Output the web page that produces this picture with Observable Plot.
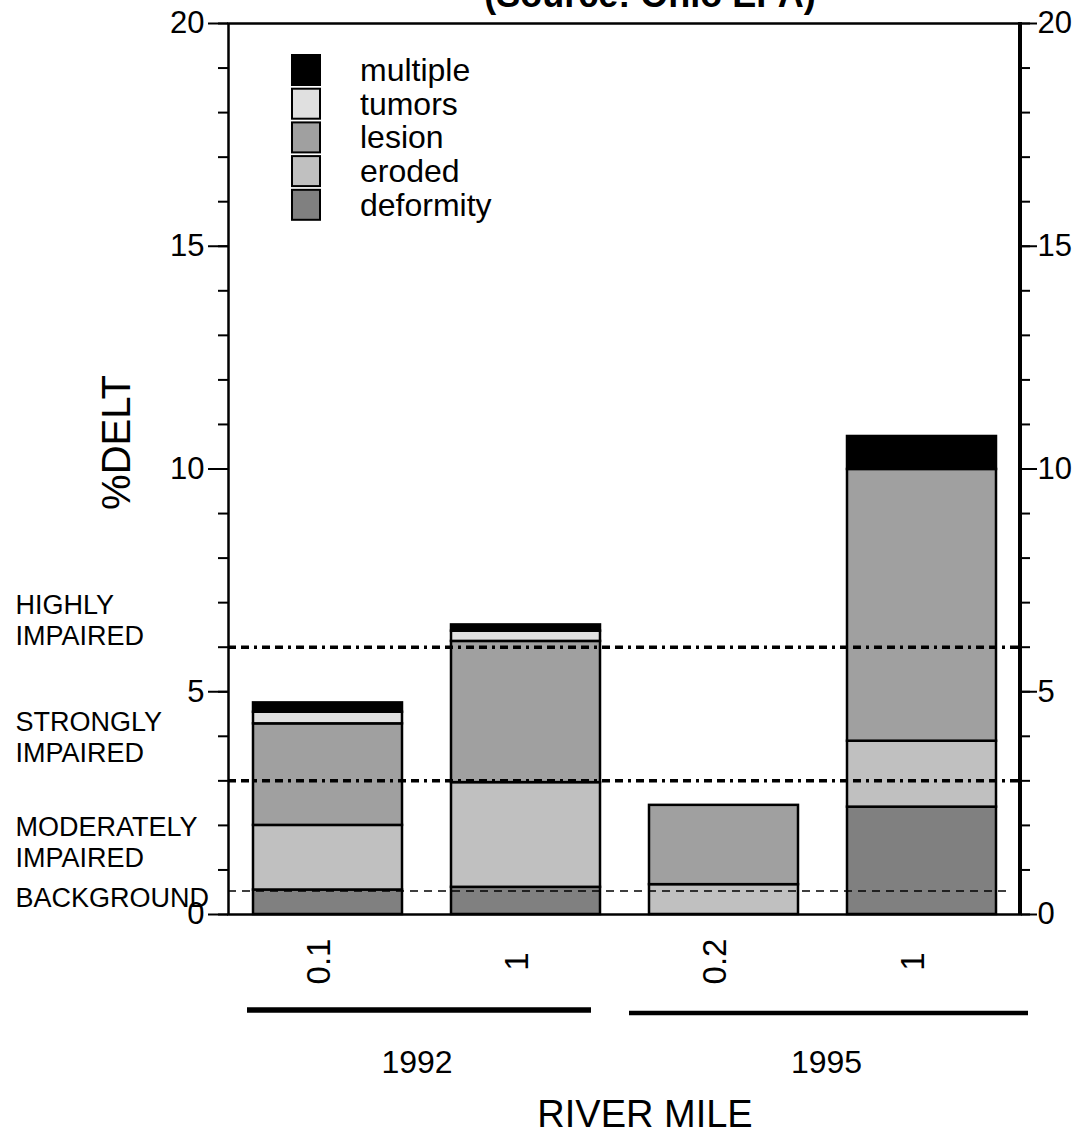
<!DOCTYPE html>
<html>
<head>
<meta charset="utf-8">
<script src="https://cdn.jsdelivr.net/npm/d3@7"></script>
<script src="https://cdn.jsdelivr.net/npm/@observablehq/plot@0.6"></script>
<style>
  html, body { margin: 0; padding: 0; background: #fff; }
  #chart { width: 1081px; height: 1133px; }
  svg text { font-family: "Liberation Sans", Arial, sans-serif; }
</style>
</head>
<body>
<div id="chart"></div>
<script>
// ---------- data ----------
const sites = ["1992 RM 0.1", "1992 RM 1", "1995 RM 0.2", "1995 RM 1"];
const siteMile = ["0.1", "1", "0.2", "1"];
const siteYear = ["1992", "1992", "1995", "1995"];
const years = ["1992", "1995"];
const categories = ["deformity", "eroded", "lesion", "tumors", "multiple"];
const colors = ["#808080", "#c0c0c0", "#a0a0a0", "#e0e0e0", "#000000"];
const deformity = [0.55, 0.61, 0, 2.41];
const eroded = [1.45, 2.35, 0.67, 1.48];
const lesion = [2.28, 3.17, 1.78, 6.10];
const tumors = [0.26, 0.23, 0, 0];
const multiple = [0.21, 0.14, 0, 0.74];
const impairThresholds = [6, 3];
const backgroundThreshold = [0.53];
const zoneLabels = ["HIGHLY\nIMPAIRED", "STRONGLY\nIMPAIRED", "MODERATELY\nIMPAIRED", "BACKGROUND"];
const zoneLabelY = [6.62, 3.99, 1.63, 0.39];
const yMajorTicks = [0, 5, 10, 15, 20];
const yMinorTicks = d3.range(0, 21, 1);
const titleText = "(Source: Ohio EPA)";
const yLabel = "%DELT";
const xLabel = "RIVER MILE";

// ---------- build table ----------
const series = {deformity, eroded, lesion, tumors, multiple};
const rows = [];
sites.forEach((s, i) => {
  categories.forEach(c => {
    if (series[c][i] > 0) rows.push({site: s, category: c, value: series[c][i]});
  });
});
const zones = zoneLabels.map((t, i) => ({text: t, y: zoneLabelY[i]}));

const FONT = "Liberation Sans, Arial, sans-serif";

const plot = Plot.plot({
  width: 1081,
  height: 1133,
  marginTop: 23,
  marginBottom: 219,
  marginLeft: 228,
  marginRight: 61,
  style: {fontFamily: FONT, background: "white", color: "black", overflow: "visible"},
  x: {domain: sites, paddingInner: 0.25, paddingOuter: 0.125, axis: null},
  y: {domain: [0, 20], axis: null},
  color: {domain: categories, range: colors},
  marks: [
    Plot.barY(rows, {x: "site", y: "value", fill: "category", stroke: "black", strokeWidth: 2.5, order: categories}),
    Plot.ruleY(impairThresholds, {stroke: "black", strokeWidth: 3.5, strokeDasharray: "8,5,8,5,3,5"}),
    Plot.ruleY(backgroundThreshold, {stroke: "black", strokeWidth: 1.5, strokeDasharray: "8,6", insetRight: 11}),
    Plot.frame({stroke: "black", strokeWidth: 2.5}),
    Plot.axisY({anchor: "left", ticks: yMinorTicks, tickSize: 10, strokeWidth: 2, tickFormat: () => "", label: null}),
    Plot.axisY({anchor: "left", ticks: yMajorTicks, tickSize: 20, tickPadding: 4, fontSize: 31, strokeWidth: 2, tickFormat: d => String(d), label: null}),
    Plot.axisY({anchor: "right", ticks: yMinorTicks, tickSize: 9, strokeWidth: 2, tickFormat: () => "", label: null}),
    Plot.axisY({anchor: "right", ticks: yMajorTicks, tickSize: 16, tickPadding: 1, fontSize: 31, strokeWidth: 2, tickFormat: d => String(d), label: null}),
    Plot.text(sites, {x: d => d, text: (d, i) => siteMile[i], frameAnchor: "bottom", dy: 47, dx: 2, rotate: -90, textAnchor: "middle", lineAnchor: "bottom", fontSize: 33, fill: "black"}),
    Plot.text(zones, {y: "y", text: "text", frameAnchor: "left", dx: -213, textAnchor: "start", lineAnchor: "middle", lineHeight: 1.15, fontSize: 27, fill: "black"})
  ]
});

document.getElementById("chart").appendChild(plot);

// ---------- decorations using the plot's scales ----------
const svg = d3.select(plot);
const xs = plot.scale("x");
const ys = plot.scale("y");
const [x0, x1] = xs.range;
const [yBottom, yTop] = ys.range;

// thick right axis line
svg.append("line")
  .attr("x1", x1).attr("x2", x1).attr("y1", yTop - 1).attr("y2", yBottom + 1)
  .attr("stroke", "black").attr("stroke-width", 4);

// title (clipped at the top)
svg.append("text")
  .attr("x", 650).attr("y", 7)
  .attr("text-anchor", "middle")
  .attr("font-size", 36).attr("font-weight", "bold")
  .attr("fill", "black")
  .text(titleText);

// y label
svg.append("text")
  .attr("transform", `translate(130, ${(yTop + yBottom) / 2 - 26}) rotate(-90)`)
  .attr("text-anchor", "middle")
  .attr("font-size", 40)
  .attr("fill", "black")
  .text(yLabel);

// group lines and year labels
const bw = xs.bandwidth;
const groupStyle = {
  "1992": {l: -6, r: -9, w: 5.5, y: 1010},
  "1995": {l: -20, r: 32, w: 4.3, y: 1013}
};
years.forEach(yr => {
  const idx = sites.map((s, i) => i).filter(i => siteYear[i] === yr);
  const st = groupStyle[yr];
  const left = xs.apply(sites[idx[0]]) + st.l;
  const right = xs.apply(sites[idx[idx.length - 1]]) + bw + st.r;
  svg.append("line")
    .attr("x1", left).attr("x2", right).attr("y1", st.y).attr("y2", st.y)
    .attr("stroke", "black").attr("stroke-width", st.w);
  svg.append("text")
    .attr("x", (left + right) / 2 - 2).attr("y", 1073)
    .attr("text-anchor", "middle")
    .attr("font-size", 32)
    .attr("fill", "black")
    .text(yr);
});

// x label
svg.append("text")
  .attr("x", 645).attr("y", 1127)
  .attr("text-anchor", "middle")
  .attr("font-size", 38)
  .attr("fill", "black")
  .text(xLabel);

// legend (top to bottom: reverse stacking order)
const legendItems = categories.map((c, i) => ({c, color: colors[i]})).reverse();
const lg = svg.append("g");
legendItems.forEach((d, i) => {
  const top = 54 + i * 33.7;
  lg.append("rect")
    .attr("x", 292).attr("y", top + 1)
    .attr("width", 28).attr("height", 30)
    .attr("fill", d.color).attr("stroke", "black").attr("stroke-width", 2);
  lg.append("text")
    .attr("x", 360).attr("y", top + 27)
    .attr("text-anchor", "start")
    .attr("font-size", 32)
    .attr("fill", "black")
    .text(d.c);
});
</script>
</body>
</html>
